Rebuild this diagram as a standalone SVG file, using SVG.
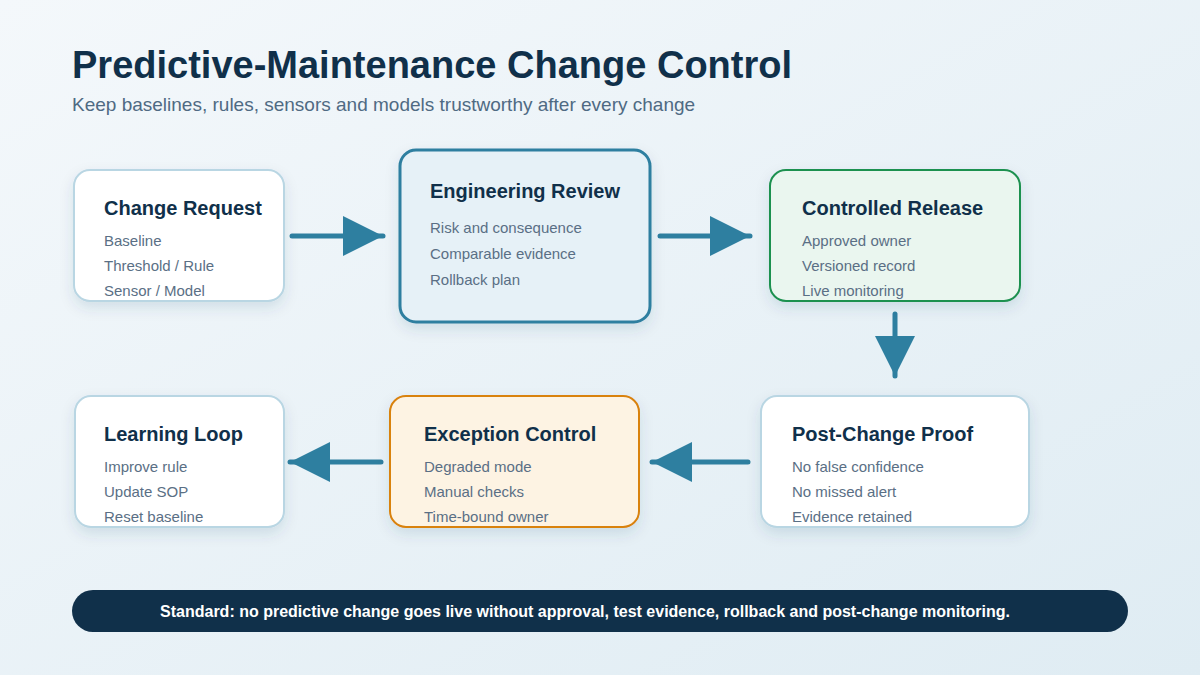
<svg xmlns="http://www.w3.org/2000/svg" width="1200" height="675" viewBox="0 0 1200 675">
<defs>
<linearGradient id="bg" x1="0" y1="0" x2="1" y2="1"><stop offset="0" stop-color="#f4f8fb"/><stop offset="1" stop-color="#dfecf3"/></linearGradient>
<filter id="sh" x="-20%" y="-20%" width="140%" height="150%"><feDropShadow dx="0" dy="6" stdDeviation="7" flood-color="#1d4a66" flood-opacity="0.12"/></filter>
<marker id="ah" markerWidth="8" markerHeight="8" refX="8" refY="4" orient="auto" markerUnits="strokeWidth"><path d="M0,0 L8,4 L0,8 Z" fill="#2e7fa0"/></marker>
</defs>
<style>
text{font-family:"Liberation Sans",Arial,sans-serif}
.t{font-size:20px;font-weight:bold;fill:#10304a}
.i{font-size:15px;fill:#5a6f85}
.n{fill:#fff;stroke:#b9d6e3;stroke-width:2;filter:url(#sh)}
.c{stroke:#2e7fa0;stroke-width:5;stroke-linecap:round;fill:none;marker-end:url(#ah)}
</style>
<rect width="1200" height="675" fill="url(#bg)"/>
<text x="72" y="78" font-size="38" font-weight="bold" fill="#10304a">Predictive-Maintenance Change Control</text>
<text x="72" y="111" font-size="19" fill="#4f6a83">Keep baselines, rules, sensors and models trustworthy after every change</text>
<g id="connectors">
<line class="c" x1="292" y1="236" x2="383" y2="236"/>
<line class="c" x1="660" y1="236" x2="750" y2="236"/>
<line class="c" x1="895" y1="314" x2="895" y2="376"/>
<line class="c" x1="748" y1="462" x2="652" y2="462"/>
<line class="c" x1="381" y1="462" x2="290" y2="462"/>
</g>
<g id="change-request">
<rect class="n" x="74" y="170" width="210" height="131" rx="16"/>
<text class="t" x="104" y="215">Change Request</text>
<text class="i" x="104" y="246">Baseline</text>
<text class="i" x="104" y="271">Threshold / Rule</text>
<text class="i" x="104" y="296">Sensor / Model</text>
</g>
<g id="engineering-review">
<rect x="400" y="150" width="250" height="172" rx="16" fill="#e6f1f7" stroke="#2e7fa0" stroke-width="3" filter="url(#sh)"/>
<text class="t" x="430" y="198">Engineering Review</text>
<text class="i" x="430" y="233">Risk and consequence</text>
<text class="i" x="430" y="259">Comparable evidence</text>
<text class="i" x="430" y="285">Rollback plan</text>
</g>
<g id="controlled-release">
<rect x="770" y="170" width="250" height="131" rx="16" fill="#eaf6ef" stroke="#1e9150" stroke-width="2" filter="url(#sh)"/>
<text class="t" x="802" y="215">Controlled Release</text>
<text class="i" x="802" y="246">Approved owner</text>
<text class="i" x="802" y="271">Versioned record</text>
<text class="i" x="802" y="296">Live monitoring</text>
</g>
<g id="post-change-proof">
<rect class="n" x="761" y="396" width="268" height="131" rx="16"/>
<text class="t" x="792" y="441">Post-Change Proof</text>
<text class="i" x="792" y="472">No false confidence</text>
<text class="i" x="792" y="497">No missed alert</text>
<text class="i" x="792" y="522">Evidence retained</text>
</g>
<g id="exception-control">
<rect x="390" y="396" width="249" height="131" rx="16" fill="#fdf3e3" stroke="#d9820f" stroke-width="2" filter="url(#sh)"/>
<text class="t" x="424" y="441">Exception Control</text>
<text class="i" x="424" y="472">Degraded mode</text>
<text class="i" x="424" y="497">Manual checks</text>
<text class="i" x="424" y="522">Time-bound owner</text>
</g>
<g id="learning-loop">
<rect class="n" x="75" y="396" width="209" height="131" rx="16"/>
<text class="t" x="104" y="441">Learning Loop</text>
<text class="i" x="104" y="472">Improve rule</text>
<text class="i" x="104" y="497">Update SOP</text>
<text class="i" x="104" y="522">Reset baseline</text>
</g>
<g id="banner">
<rect x="72" y="590" width="1056" height="42" rx="21" fill="#10304a"/>
<text x="585" y="617" font-size="16" font-weight="bold" fill="#fff" text-anchor="middle">Standard: no predictive change goes live without approval, test evidence, rollback and post-change monitoring.</text>
</g>
</svg>
